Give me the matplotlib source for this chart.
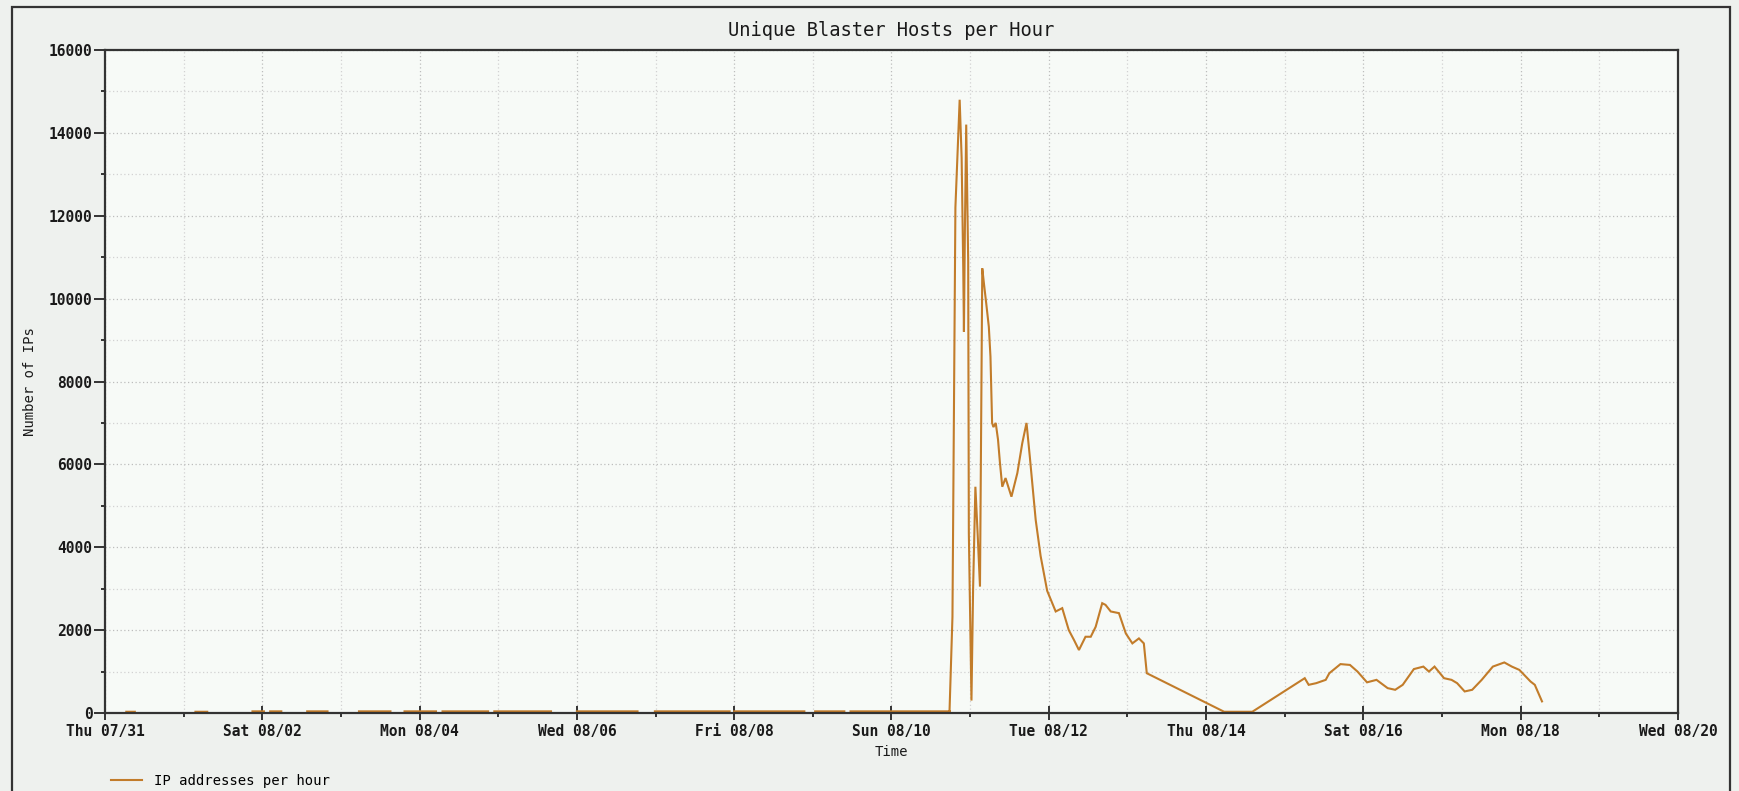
import numpy as np
import matplotlib
matplotlib.use("Agg")
import matplotlib.pyplot as plt
from matplotlib.patches import Rectangle
from matplotlib.ticker import MultipleLocator

plt.rcParams['font.family'] = ['DejaVu Sans Mono']

# quiet period before the outbreak: short low-count runs, gaps between them
quiet_start = [6.5, 27.6, 45.0, 50.4, 61.7, 77.5, 91.4, 103.0, 118.8, 144.0,
               167.8, 192.0, 216.7, 227.5]
quiet_end = [9.1, 31.2, 48.5, 53.8, 67.9, 87.1, 101.0, 116.9, 136.1, 162.5,
             190.6, 213.4, 225.6, 257.7]
quiet_level = [30, 30, 40, 40, 40, 40, 40, 40, 40, 40, 40, 40, 40, 40]

# outbreak, hours since Thu 07/31 00:00
hours = [257.7, 258.6, 259.5, 260.8, 261.4, 261.9, 262.1, 262.4, 262.8, 263.4,
         263.6, 264.4, 264.9, 265.6, 266.3, 267.0, 267.7, 268.2, 268.9, 269.7,
         270.2, 270.7, 271.1, 271.8, 272.5, 273.1, 273.8, 274.8, 276.6, 278.4,
         279.9, 281.2, 282.2, 284.0, 285.5, 287.5, 290.1, 292.1, 294.1, 295.7,
         297.2, 299.2, 300.8, 302.3, 304.3, 305.3, 306.9, 309.4, 311.5, 313.5,
         315.5, 317.0, 317.9, 341.5, 350.1, 366.1, 367.3, 369.6, 372.5, 373.6,
         377.0, 379.9, 382.2, 385.1, 388.0, 391.4, 393.7, 396.0, 399.4, 402.3,
         404.0, 405.7, 408.6, 410.9, 412.6, 414.9, 417.2, 420.1, 423.5, 427.0,
         429.3, 431.6, 435.0, 436.3, 438.5]
ips = [30, 2320, 12200, 14800, 13400, 10700, 9200, 11700, 14200, 10900,
       4340, 300, 3000, 5460, 4300, 3050, 10730, 10370, 9890, 9320,
       8600, 7000, 6900, 7000, 6600, 6030, 5460, 5670, 5220, 5790,
       6510, 7000, 6190, 4660, 3790, 2950, 2450, 2530, 2000, 1760,
       1520, 1840, 1840, 2080, 2650, 2610, 2450, 2410, 1920, 1680,
       1800, 1680, 960, 30, 30, 840, 680, 720, 800, 960,
       1180, 1160, 1000, 740, 800, 600, 560, 680, 1060, 1120,
       1000, 1120, 840, 800, 720, 520, 560, 800, 1120, 1220,
       1120, 1040, 760, 680, 280]

tick_labels = ['Thu 07/31', 'Sat 08/02', 'Mon 08/04', 'Wed 08/06', 'Fri 08/08',
               'Sun 08/10', 'Tue 08/12', 'Thu 08/14', 'Sat 08/16', 'Mon 08/18',
               'Wed 08/20']

# join everything into one line, NaN breaks the gaps
xs, ys = [], []
for s, e, v in zip(quiet_start, quiet_end, quiet_level):
    xs += [s, e, np.nan]
    ys += [v, v, np.nan]
xs += hours
ys += ips

W, H = 1740, 791
fig = plt.figure(figsize=(W / 100, H / 100), dpi=100, facecolor='#eef1ee')
ax = fig.add_axes([105 / W, 1 - 713 / H, (1678 - 105) / W, (713 - 50) / H])
ax.set_facecolor('#f7faf7')

line_color = '#c27c2a'
ax.plot(xs, ys, color=line_color, lw=1.5, label='IP addresses per hour',
        solid_joinstyle='miter', zorder=3, clip_on=False)

ax.set_xlim(0, 480)
ax.set_ylim(0, 16000)
ax.set_xticks(np.arange(0, 481, 48))
ax.set_xticklabels(tick_labels)
ax.xaxis.set_minor_locator(MultipleLocator(24))
ax.yaxis.set_major_locator(MultipleLocator(2000))
ax.yaxis.set_minor_locator(MultipleLocator(1000))

ax.grid(which='major', color='#bdbdbd', ls=(0, (1, 2)), lw=0.9)
ax.grid(which='minor', color='#d2d2d2', ls=(0, (1, 2)), lw=0.9)
ax.set_axisbelow(True)

for sp in ax.spines.values():
    sp.set_color('#333333')
    sp.set_linewidth(1.6)
    sp.set_zorder(4)

ax.tick_params(axis='x', which='major', direction='inout', length=10, width=1.4,
               color='#333333', labelsize=10.5, pad=3)
ax.tick_params(axis='x', which='minor', direction='out', length=3, width=1.4,
               color='#333333')
ax.tick_params(axis='y', which='major', direction='out', length=8, width=1.4,
               color='#333333', labelsize=10.5, pad=1)
ax.tick_params(axis='y', which='minor', direction='out', length=3, width=1.4,
               color='#333333')
for lab in ax.get_xticklabels() + ax.get_yticklabels():
    lab.set_fontweight('bold')
    lab.set_color('#1a1a1a')

fig.text(891 / W, 1 - 30 / H, 'Unique Blaster Hosts per Hour', ha='center',
         va='center', fontsize=13.5, color='#1a1a1a')
fig.text(891 / W, 1 - 752 / H, 'Time', ha='center', va='center', fontsize=10,
         color='#1a1a1a')
fig.text(30 / W, 1 - 382 / H, 'Number of IPs', ha='center', va='center',
         rotation=90, fontsize=10, color='#1a1a1a')

ax.legend(loc='center left', bbox_to_anchor=(111 / W, 1 - 781 / H),
          bbox_transform=fig.transFigure, frameon=False, fontsize=10,
          handlelength=2.2, handletextpad=0.9, borderpad=0, borderaxespad=0)

# outer frame around the whole graphic
fig.patches.append(Rectangle((12 / W, -0.05), (1730 - 12) / W, 1.05 - 7 / H,
                             transform=fig.transFigure, fill=False,
                             edgecolor='#333333', lw=1.6))

fig.savefig('out.png', dpi=100, facecolor=fig.get_facecolor())
